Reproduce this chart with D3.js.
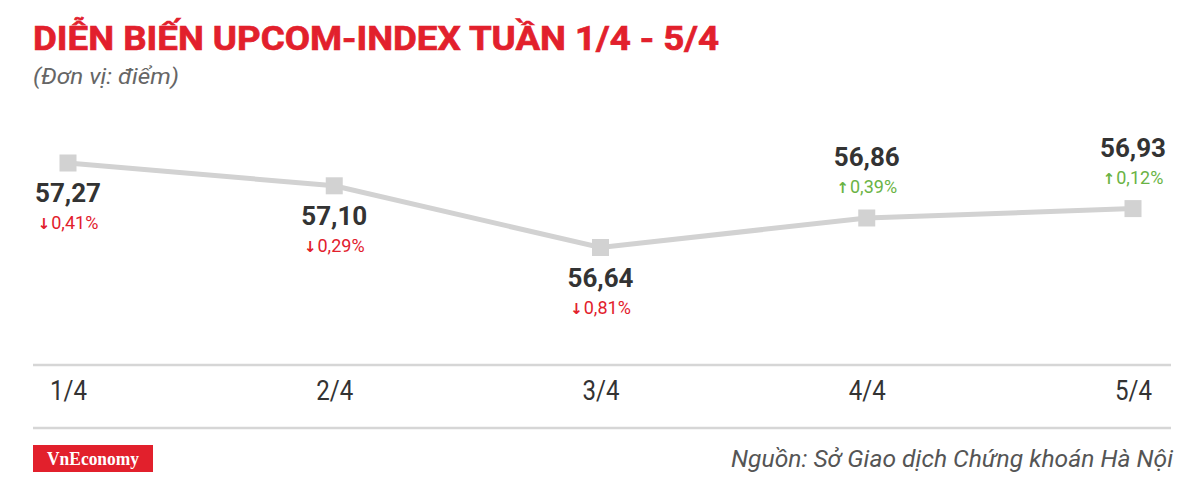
<!DOCTYPE html>
<html>
    <head>
        <meta charset="utf-8">
        <title>UPCOM-Index</title>
        <style>
            body { margin: 0; background: #fff; }
            svg { display: block; }
            text { font-family: Roboto, "Noto Sans", sans-serif; }
        </style>
    </head>
    <body>
        <script src="https://cdn.jsdelivr.net/npm/d3@7/dist/d3.min.js"></script>
        <script>

            var days = ["1/4", "2/4", "3/4", "4/4", "5/4"];
            var closes = [57.27, 57.10, 56.64, 56.86, 56.93];
            var changes = [-0.41, -0.29, -0.81, 0.39, 0.12];

            var width = 1200;
            var height = 482;
            var red = "#e2202c";
            var green = "#6ab344";
            var grey = "#d2d2d2";

            var svg = d3.select("body").append("svg")
                    .attr("width", width)
                    .attr("height", height);

            var x = d3.scalePoint()
                    .domain(days)
                    .range([68, 1133]);

            var y = d3.scaleLinear()
                    .domain([56.64, 57.27])
                    .range([247.5, 163]);

            var fmt = function (v) { return d3.format(".2f")(v).replace(".", ","); };

            // title block
            svg.append("text")
                    .attr("x", 33).attr("y", 50)
                    .attr("textLength", 686).attr("lengthAdjust", "spacingAndGlyphs")
                    .style("font-size", "34px").style("font-weight", "bold")
                    .style("fill", red).style("stroke", red).style("stroke-width", 0.7)
                    .text("DIỄN BIẾN UPCOM-INDEX TUẦN 1/4 - 5/4");

            svg.append("text")
                    .attr("x", 33).attr("y", 84)
                    .attr("textLength", 146).attr("lengthAdjust", "spacingAndGlyphs")
                    .style("font-size", "22px").style("font-style", "italic")
                    .style("fill", "#666")
                    .text("(Đơn vị: điểm)");

            // rules around the day axis
            svg.selectAll("line.rule")
                    .data([365, 428])
                    .enter().append("line")
                    .attr("class", "rule")
                    .attr("x1", 33).attr("x2", 1171)
                    .attr("y1", function (d) { return d; })
                    .attr("y2", function (d) { return d; })
                    .style("stroke", "#d6d6d6")
                    .style("stroke-width", 2.5);

            var axis = svg.append("g")
                    .attr("transform", "translate(0,400)")
                    .call(d3.axisBottom(x).tickSize(0).tickPadding(0));
            axis.select(".domain").remove();
            axis.selectAll("text")
                    .attr("dy", 0)
                    .attr("textLength", 37).attr("lengthAdjust", "spacingAndGlyphs")
                    .style("font-family", "Roboto, sans-serif")
                    .style("font-size", "27px")
                    .style("fill", "#333");

            // line + markers
            var pts = days.map(function (d, i) {
                return {day: d, v: closes[i], c: changes[i]};
            });

            var line = d3.line()
                    .x(function (d) { return x(d.day); })
                    .y(function (d) { return y(d.v); });

            svg.append("path")
                    .datum(pts)
                    .attr("d", line)
                    .style("fill", "none")
                    .style("stroke", grey)
                    .style("stroke-width", 5);

            svg.selectAll("rect.pt")
                    .data(pts)
                    .enter().append("rect")
                    .attr("class", "pt")
                    .attr("x", function (d) { return x(d.day) - 8.5; })
                    .attr("y", function (d) { return y(d.v) - 8.5; })
                    .attr("width", 17).attr("height", 17)
                    .style("fill", grey);

            // labels: above the marker on up days, below on down days
            var lab = svg.selectAll("g.lab")
                    .data(pts)
                    .enter().append("g")
                    .attr("class", "lab")
                    .attr("transform", function (d) {
                        return "translate(" + x(d.day) + "," + y(d.v) + ")";
                    });

            lab.append("text")
                    .attr("text-anchor", "middle")
                    .attr("y", function (d) { return d.c > 0 ? -52 : 39; })
                    .style("font-size", "26px").style("font-weight", "bold")
                    .style("fill", "#333")
                    .text(function (d) { return fmt(d.v); });

            var pct = lab.append("text")
                    .attr("text-anchor", "middle")
                    .attr("y", function (d) { return d.c > 0 ? -25 : 66; })
                    .style("font-size", "18px")
                    .style("fill", function (d) { return d.c > 0 ? green : red; });
            pct.append("tspan")
                    .style("font-family", "'DejaVu Sans', sans-serif")
                    .style("font-weight", "bold")
                    .style("font-size", "15px")
                    .text(function (d) { return d.c > 0 ? "↑" : "↓"; });
            pct.append("tspan")
                    .attr("dx", 1)
                    .text(function (d) { return fmt(Math.abs(d.c)) + "%"; });

            // footer
            svg.append("rect")
                    .attr("x", 33).attr("y", 445)
                    .attr("width", 120).attr("height", 27)
                    .style("fill", red);
            svg.append("text")
                    .attr("x", 93).attr("y", 465)
                    .attr("text-anchor", "middle")
                    .attr("textLength", 92).attr("lengthAdjust", "spacingAndGlyphs")
                    .style("font-family", "'Liberation Serif', serif")
                    .style("font-size", "18px").style("font-weight", "bold")
                    .style("fill", "#fff")
                    .text("VnEconomy");

            svg.append("text")
                    .attr("x", 1173).attr("y", 467)
                    .attr("text-anchor", "end")
                    .attr("textLength", 442).attr("lengthAdjust", "spacingAndGlyphs")
                    .style("font-size", "24px").style("font-style", "italic")
                    .style("fill", "#555")
                    .text("Nguồn: Sở Giao dịch Chứng khoán Hà Nội");

        </script>
    </body>
</html>
